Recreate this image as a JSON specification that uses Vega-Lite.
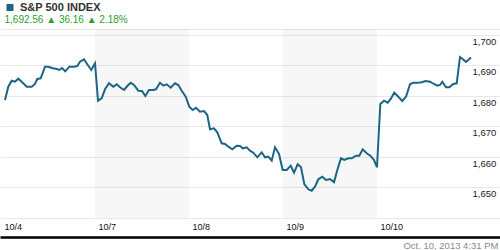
{
  "$schema": "https://vega.github.io/schema/vega-lite/v6.json",
  "width": 500,
  "height": 189,
  "autosize": {"type": "none"},
  "padding": {"left": 0, "top": 29, "right": 0, "bottom": 32},
  "background": "white",
  "config": {"view": {"stroke": null}, "font": "Liberation Sans"},
  "datasets": {
    "bands": [{"d0": 1, "d1": 2}, {"d0": 3, "d1": 4}],
    "series": [
      {"t": 0.0426, "v": 1678.62}, {"t": 0.0777, "v": 1682.99}, {"t": 0.1138, "v": 1684.97}, {"t": 0.1489, "v": 1684.64},
      {"t": 0.1840, "v": 1685.62}, {"t": 0.2202, "v": 1684.64}, {"t": 0.2734, "v": 1682.99}, {"t": 0.3266, "v": 1682.99},
      {"t": 0.3617, "v": 1683.88}, {"t": 0.3862, "v": 1685.53}, {"t": 0.4223, "v": 1685.76}, {"t": 0.4681, "v": 1689.57},
      {"t": 0.5032, "v": 1689.57}, {"t": 0.5500, "v": 1689.05}, {"t": 0.5851, "v": 1688.91}, {"t": 0.6202, "v": 1688.49},
      {"t": 0.6489, "v": 1689.14}, {"t": 0.6840, "v": 1688.06}, {"t": 0.7266, "v": 1689.57}, {"t": 0.7766, "v": 1689.57},
      {"t": 0.8117, "v": 1689.80}, {"t": 0.8404, "v": 1691.22}, {"t": 0.8830, "v": 1692.01}, {"t": 0.9181, "v": 1690.36},
      {"t": 0.9606, "v": 1688.49}, {"t": 1.0000, "v": 1690.69},
      {"t": 1.0319, "v": 1678.39}, {"t": 1.0713, "v": 1679.18}, {"t": 1.1064, "v": 1682.14}, {"t": 1.1489, "v": 1684.11},
      {"t": 1.1947, "v": 1682.99}, {"t": 1.2309, "v": 1683.78}, {"t": 1.2660, "v": 1682.80}, {"t": 1.3085, "v": 1681.91},
      {"t": 1.3436, "v": 1683.22}, {"t": 1.3798, "v": 1684.31}, {"t": 1.4149, "v": 1683.55}, {"t": 1.4606, "v": 1681.68},
      {"t": 1.5000, "v": 1681.58}, {"t": 1.5351, "v": 1679.93}, {"t": 1.5745, "v": 1681.91}, {"t": 1.6202, "v": 1681.91},
      {"t": 1.6489, "v": 1682.14}, {"t": 1.6915, "v": 1684.31}, {"t": 1.7266, "v": 1683.32}, {"t": 1.7628, "v": 1683.78},
      {"t": 1.8053, "v": 1682.66}, {"t": 1.8511, "v": 1684.11}, {"t": 1.8862, "v": 1683.55}, {"t": 1.9223, "v": 1681.68},
      {"t": 1.9649, "v": 1679.70}, {"t": 2.0032, "v": 1676.41},
      {"t": 2.0394, "v": 1675.33}, {"t": 2.0745, "v": 1676.09}, {"t": 2.1170, "v": 1674.77}, {"t": 2.1596, "v": 1675.00},
      {"t": 2.1947, "v": 1673.68}, {"t": 2.2234, "v": 1668.98}, {"t": 2.2660, "v": 1669.31}, {"t": 2.3011, "v": 1667.99},
      {"t": 2.3479, "v": 1664.37}, {"t": 2.3830, "v": 1664.14}, {"t": 2.4181, "v": 1663.26}, {"t": 2.4606, "v": 1662.40},
      {"t": 2.5074, "v": 1663.59}, {"t": 2.5426, "v": 1663.49}, {"t": 2.5713, "v": 1662.73}, {"t": 2.6138, "v": 1663.06},
      {"t": 2.6489, "v": 1661.94}, {"t": 2.6840, "v": 1661.28}, {"t": 2.7266, "v": 1659.77}, {"t": 2.7734, "v": 1661.41},
      {"t": 2.8085, "v": 1659.77}, {"t": 2.8436, "v": 1659.97}, {"t": 2.8798, "v": 1658.65}, {"t": 2.9149, "v": 1663.06},
      {"t": 2.9574, "v": 1660.86}, {"t": 2.9968, "v": 1655.59},
      {"t": 3.0394, "v": 1655.59}, {"t": 3.0819, "v": 1657.01}, {"t": 3.1170, "v": 1654.70}, {"t": 3.1564, "v": 1657.47},
      {"t": 3.1915, "v": 1656.48}, {"t": 3.2266, "v": 1650.99}, {"t": 3.2691, "v": 1649.24}, {"t": 3.3053, "v": 1648.78},
      {"t": 3.3404, "v": 1650.10}, {"t": 3.3755, "v": 1652.53}, {"t": 3.4181, "v": 1653.39}, {"t": 3.4574, "v": 1652.30},
      {"t": 3.5000, "v": 1652.63}, {"t": 3.5426, "v": 1651.55}, {"t": 3.5777, "v": 1655.59}, {"t": 3.6170, "v": 1659.44},
      {"t": 3.6521, "v": 1658.88}, {"t": 3.6947, "v": 1659.44}, {"t": 3.7309, "v": 1659.44}, {"t": 3.7766, "v": 1660.30},
      {"t": 3.8117, "v": 1660.30}, {"t": 3.8479, "v": 1662.40}, {"t": 3.8904, "v": 1661.09}, {"t": 3.9330, "v": 1660.20},
      {"t": 3.9681, "v": 1658.88}, {"t": 4.0000, "v": 1656.48},
      {"t": 4.0351, "v": 1677.30}, {"t": 4.0745, "v": 1678.39}, {"t": 4.1138, "v": 1677.73}, {"t": 4.1457, "v": 1678.95},
      {"t": 4.1840, "v": 1681.02}, {"t": 4.2266, "v": 1679.70}, {"t": 4.2691, "v": 1678.29}, {"t": 4.3085, "v": 1679.70},
      {"t": 4.3511, "v": 1683.78}, {"t": 4.3862, "v": 1684.31}, {"t": 4.4394, "v": 1684.31}, {"t": 4.4755, "v": 1684.44},
      {"t": 4.5181, "v": 1684.87}, {"t": 4.5638, "v": 1684.64}, {"t": 4.6064, "v": 1683.88}, {"t": 4.6415, "v": 1683.32},
      {"t": 4.6702, "v": 1683.55}, {"t": 4.6947, "v": 1684.64}, {"t": 4.7340, "v": 1682.80}, {"t": 4.7691, "v": 1682.80},
      {"t": 4.8117, "v": 1683.88}, {"t": 4.8479, "v": 1684.11}, {"t": 4.8830, "v": 1692.76}, {"t": 4.9181, "v": 1691.94},
      {"t": 4.9468, "v": 1691.12}, {"t": 5.0000, "v": 1692.56}
    ]
  },
  "layer": [
    {
      "data": {"name": "bands"},
      "mark": {"type": "rect", "fill": "#000000", "opacity": 0.03},
      "encoding": {
        "x": {
          "field": "d0",
          "type": "quantitative",
          "scale": {"domain": [-0.0106, 5.3085], "nice": false, "zero": false},
          "axis": {
            "orient": "bottom",
            "offset": 19,
            "values": [0, 1, 2, 3, 4],
            "labelExpr": "['10/4','10/7','10/8','10/9','10/10'][datum.value]",
            "grid": false,
            "ticks": false,
            "tickSize": 0,
            "domain": true,
            "domainColor": "#000000",
            "domainWidth": 2.5,
            "labelAlign": "left",
            "labelBaseline": "alphabetic",
            "labelPadding": -7.5,
            "labelOffset": 3,
            "labelFont": "Liberation Sans",
            "labelFontSize": 9,
            "labelColor": "#111111",
            "labelFlush": false,
            "labelOverlap": false,
            "title": "Oct. 10, 2013 4:31 PM",
            "titleFont": "Liberation Sans",
            "titleFontSize": 9.5,
            "titleFontWeight": "normal",
            "titleColor": "#8a8a8a",
            "titleAlign": "right",
            "titleAnchor": "end",
            "titleBaseline": "alphabetic",
            "titleX": 498,
            "titleY": 11
          }
        },
        "x2": {"field": "d1"}
      }
    },
    {
      "data": {"name": "series"},
      "mark": {"type": "line", "strokeWidth": 2, "interpolate": "linear"},
      "encoding": {
        "x": {"field": "t", "type": "quantitative"},
        "y": {
          "field": "v",
          "type": "quantitative",
          "scale": {"domain": [1639.8, 1701.97], "nice": false, "zero": false},
          "axis": {
            "orient": "right",
            "offset": -28,
            "values": [1639.8, 1650, 1660, 1670, 1680, 1690, 1700, 1701.97],
            "labelExpr": "(datum.value < 1645 || datum.value > 1701) ? '' : format(datum.value, ',')",
            "grid": true,
            "gridColor": "#e8e8e8",
            "gridWidth": 1,
            "domain": false,
            "ticks": false,
            "tickSize": 0,
            "labelAlign": "left",
            "labelBaseline": "top",
            "labelPadding": 0,
            "labelOffset": 1.5,
            "labelFont": "Liberation Sans",
            "labelFontSize": 9.5,
            "labelColor": "#222222",
            "labelFlush": false,
            "labelOverlap": false,
            "title": null
          }
        },
        "color": {
          "datum": "S&P 500 INDEX",
          "type": "nominal",
          "scale": {"range": ["#1b6684"]},
          "legend": {
            "orient": "none",
            "legendX": 4.5,
            "legendY": -27,
            "padding": 0,
            "symbolType": "square",
            "symbolSize": 49,
            "symbolStrokeWidth": 0,
            "symbolFillColor": "#1b6684",
            "labelOffset": 4.5,
            "labelFont": "Liberation Sans",
            "labelFontSize": 11,
            "labelFontWeight": "bold",
            "labelColor": "#333333",
            "title": "1,692.56 ▲ 36.16 ▲ 2.18%",
            "titleOrient": "bottom",
            "titleAnchor": "start",
            "titleAlign": "left",
            "titlePadding": 2,
            "titleFont": "Liberation Sans",
            "titleFontSize": 10,
            "titleFontWeight": "normal",
            "titleColor": "#2ba02b",
            "encode": {"symbols": {"update": {"fill": {"value": "#1b6684"}, "strokeWidth": {"value": 0}}}}
          }
        }
      }
    }
  ]
}
